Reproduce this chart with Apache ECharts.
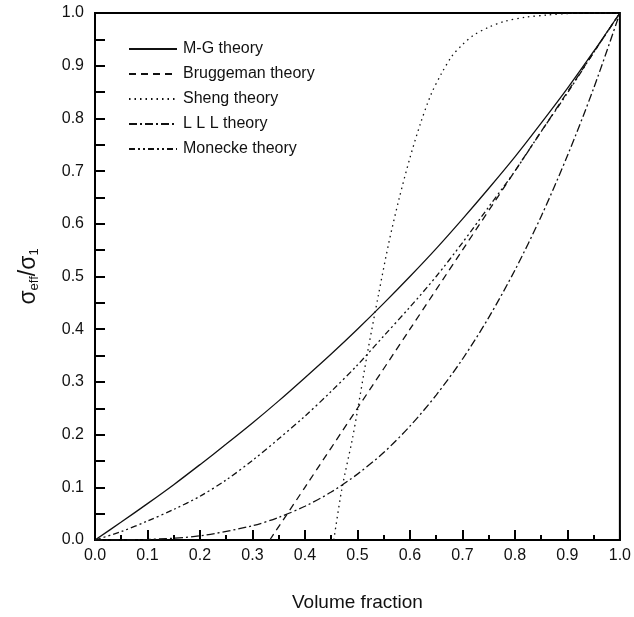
<!DOCTYPE html>
<html>
<head>
  <meta charset="utf-8">
  <script src="https://cdn.jsdelivr.net/npm/echarts@6/dist/echarts.min.js"></script>
  <style>
  body{margin:0;background:#fff}
  #main{width:634px;height:617px}
  </style>
</head>
<body>
  <div id="main"></div>
  <script type="text/javascript">
      // values (x = volume fraction)
      var xMG = [0, 0.05, 0.1, 0.15, 0.2, 0.25, 0.3, 0.35, 0.4, 0.45, 0.5, 0.55, 0.6, 0.65, 0.7, 0.75, 0.8, 0.85, 0.9, 0.95, 1];
      var yMG = [0, 0.034, 0.069, 0.105, 0.143, 0.182, 0.222, 0.264, 0.308, 0.353, 0.4, 0.449, 0.5, 0.553, 0.609, 0.667, 0.727, 0.791, 0.857, 0.927, 1];

      var xBrug = [0.333, 0.4, 0.5, 0.6, 0.7, 0.8, 0.9, 1];
      var yBrug = [0, 0.1, 0.25, 0.4, 0.55, 0.7, 0.85, 1];

      var xSheng = [0.455, 0.47, 0.49, 0.5, 0.52, 0.54, 0.56, 0.58, 0.6, 0.62, 0.64, 0.66, 0.68, 0.7, 0.72, 0.75, 0.78, 0.82, 0.86, 0.9, 0.95, 1];
      var ySheng = [0, 0.095, 0.19, 0.245, 0.36, 0.465, 0.565, 0.65, 0.725, 0.79, 0.845, 0.885, 0.918, 0.94, 0.957, 0.973, 0.984, 0.992, 0.996, 0.999, 1, 1];

      var xLLL = [0, 0.1, 0.2, 0.3, 0.35, 0.4, 0.45, 0.5, 0.55, 0.6, 0.65, 0.7, 0.75, 0.8, 0.85, 0.9, 0.95, 1];
      var yLLL = [0, 0.001, 0.008, 0.027, 0.043, 0.064, 0.091, 0.125, 0.166, 0.216, 0.275, 0.343, 0.422, 0.512, 0.614, 0.729, 0.857, 1];

      var xMon = [0, 0.05, 0.1, 0.15, 0.2, 0.25, 0.3, 0.35, 0.4, 0.45, 0.5, 0.55, 0.6, 0.65, 0.7, 0.75, 0.8, 0.85, 0.9, 0.95, 1];
      var yMon = [0, 0.016, 0.036, 0.058, 0.083, 0.114, 0.151, 0.192, 0.235, 0.282, 0.332, 0.387, 0.442, 0.5, 0.564, 0.632, 0.7, 0.775, 0.848, 0.925, 1];

      var names = ['M-G theory', 'Bruggeman theory', 'Sheng theory', 'L L L theory', 'Monecke theory'];

      function pairs(xs, ys) {
          var out = [];
          for (var i = 0; i < xs.length; i++) {
              out.push([xs[i], ys[i]]);
          }
          return out;
      }

      var font = 'Liberation Sans, Arial, sans-serif';
      var ink = '#111';

      function line(name, data, type) {
          return {
              name: name,
              type: 'line',
              data: data,
              symbol: 'none',
              smooth: 0.3,
              itemStyle: {color: ink},
              lineStyle: {color: ink, width: 1.3, type: type}
          };
      }

      var myChart = echarts.init(document.getElementById('main'));
      var option = {
          animation: false,
          backgroundColor: '#fff',
          color: [ink],
          grid: {
              left: 95, top: 13, width: 528, height: 528,
              show: true, borderColor: '#000', borderWidth: 2
          },
          legend: {
              orient: 'vertical',
              left: 123, top: 36,
              itemWidth: 48, itemHeight: 14, itemGap: 9,
              itemStyle: {opacity: 0},
              data: names,
              textStyle: {fontFamily: font, fontSize: 16, color: ink, padding: [0, 0, 0, 1]}
          },
          xAxis: {
              type: 'value', min: 0, max: 1, interval: 0.1,
              name: 'Volume fraction', nameLocation: 'middle', nameGap: 53,
              nameTextStyle: {fontFamily: font, fontSize: 19, color: ink},
              axisLine: {lineStyle: {color: '#000', width: 2}},
              axisTick: {inside: true, length: 10, lineStyle: {color: '#000', width: 2}},
              minorTick: {show: true, splitNumber: 2, length: 5, lineStyle: {color: '#000', width: 2}},
              splitLine: {show: false},
              axisLabel: {fontFamily: font, fontSize: 16, color: ink, margin: 8,
                  formatter: function (v) { return v.toFixed(1); }}
          },
          yAxis: {
              type: 'value', min: 0, max: 1, interval: 0.1,
              name: '{a|σ}{s|eff}{a|/σ}{s|1}', nameLocation: 'middle', nameGap: 54, nameRotate: 90,
              nameTextStyle: {
                  rich: {
                      a: {fontFamily: font, fontSize: 23, color: ink},
                      s: {fontFamily: font, fontSize: 13, color: ink, padding: [12, 0, 0, 0]}
                  }
              },
              axisLine: {lineStyle: {color: '#000', width: 2}},
              axisTick: {inside: true, length: 10, lineStyle: {color: '#000', width: 2}},
              minorTick: {show: true, splitNumber: 2, length: 10, lineStyle: {color: '#000', width: 2}},
              splitLine: {show: false},
              axisLabel: {fontFamily: font, fontSize: 16, color: ink, margin: 11,
                  formatter: function (v) { return v.toFixed(1); }}
          },
          series: [
              line(names[0], pairs(xMG, yMG), 'solid'),
              line(names[1], pairs(xBrug, yBrug), [7, 5]),
              line(names[2], pairs(xSheng, ySheng), [1.5, 4]),
              line(names[3], pairs(xLLL, yLLL), [8, 3, 2, 3]),
              line(names[4], pairs(xMon, yMon), [6, 3, 2, 3, 2, 3])
          ]
      };
      myChart.setOption(option);
  </script>
</body>
</html>
